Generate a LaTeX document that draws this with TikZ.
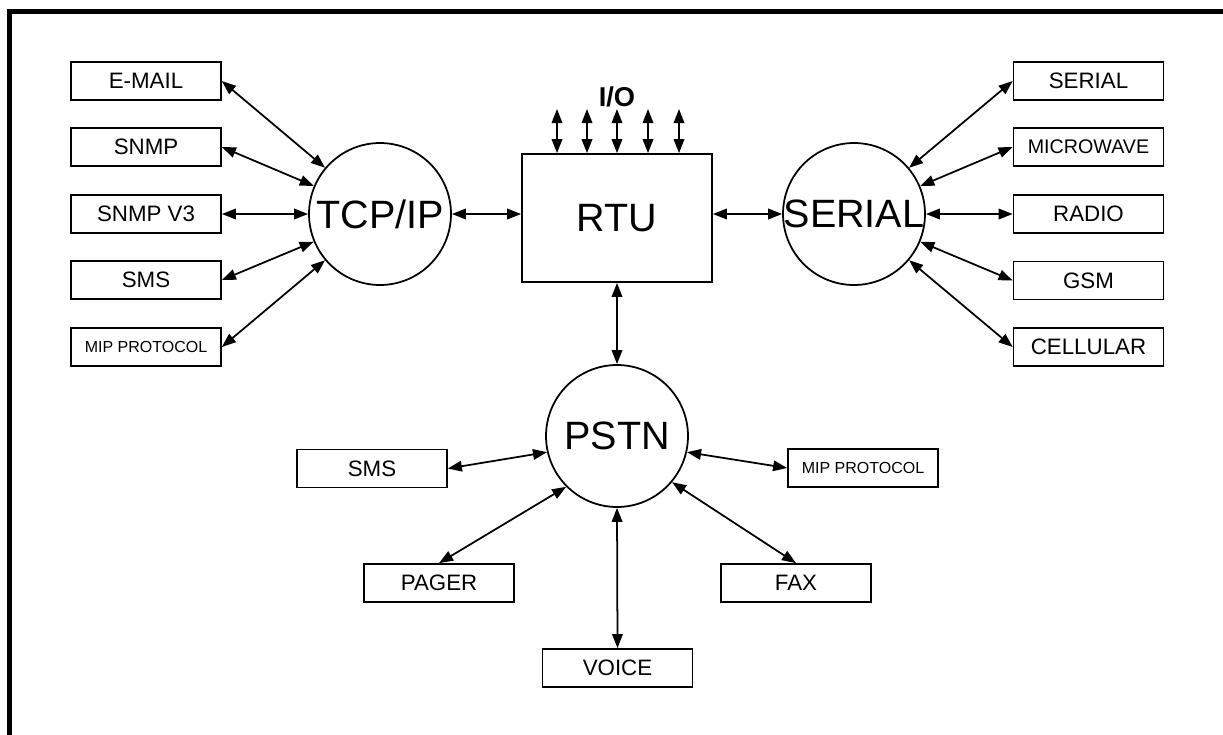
\documentclass[tikz,border=0pt]{standalone}
\usepackage{fontspec}
\setmainfont{Liberation Sans}
\usetikzlibrary{arrows.meta}

\begin{document}
\begin{tikzpicture}[x=0.02cm,y=-0.02cm,
	unit/.style={draw,line width=1pt,minimum width=3cm,minimum height=0.76cm,inner sep=0pt,font=\fontsize{12.7}{15}\selectfont},
	hub/.style={draw,circle,line width=1pt,minimum size=2.84cm,inner sep=0pt,font=\fontsize{22.5}{26}\selectfont},
	link/.style={{Triangle[length=8pt,width=6pt]}-{Triangle[length=8pt,width=6pt]},line width=1pt}]
	\path[use as bounding box] (0,0) rectangle (1223,734);
	\draw[line width=2.8pt] (9.5,745) -- (9.5,11.5) -- (1235,11.5);

	\node[draw,line width=1pt,minimum width=3.8cm,minimum height=2.56cm,font=\fontsize{22.5}{26}\selectfont] (rtu) at (617,218) {RTU};
	\node[font=\bfseries\fontsize{15.5}{18}\selectfont] (io) at (617,97) {I/O};
	\node[hub] (tcp) at (380,214) {\makebox[0pt]{TCP/IP}};
	\node[hub] (ser) at (854,214) {\makebox[0pt]{SERIAL}};
	\node[hub] (pstn) at (617,436) {\makebox[0pt]{PSTN}};

	\node[unit] (email) at (146,81) {E-MAIL};
	\node[unit] (snmp) at (146,147) {SNMP};
	\node[unit] (snmpv) at (146,214) {SNMP V3};
	\node[unit] (smsa) at (146,280) {SMS};
	\node[unit,font=\fontsize{9.1}{11}\selectfont] (mipa) at (146,347) {MIP PROTOCOL};

	\node[unit] (serial) at (1088.5,81) {SERIAL};
	\node[unit,font=\fontsize{11.2}{13}\selectfont] (microwave) at (1088.5,147) {MICROWAVE};
	\node[unit] (radio) at (1088.5,214) {RADIO};
	\node[unit] (gsm) at (1088.5,280.5) {GSM};
	\node[unit] (cellular) at (1088.5,347) {CELLULAR};

	\node[unit] (smsb) at (372,468.5) {SMS};
	\node[unit,font=\fontsize{9.1}{11}\selectfont] (mipb) at (863,468) {MIP PROTOCOL};
	\node[unit] (pager) at (439,583) {PAGER};
	\node[unit] (fax) at (796,583) {FAX};
	\node[unit] (voice) at (617.5,668) {VOICE};

	\foreach \n in {email,snmp,snmpv,smsa,mipa}
		\draw[link] (\n.east) -- (tcp);
	\foreach \n in {serial,microwave,radio,gsm,cellular}
		\draw[link] (\n.west) -- (ser);
	\foreach \x in {557,587,617,648,679} {
		\coordinate (io-\x) at (\x,109);
		\draw[link] (io-\x) -- (io-\x |- rtu.north);
	}

	\draw[link] (tcp.east) -- (tcp.east -| rtu.west);
	\draw[link] (ser.west) -- (ser.west -| rtu.east);
	\draw[link] (rtu.south) -- (pstn.north);
	\draw[link] (smsb.east) -- (pstn.193);
	\draw[link] (pstn.-13) -- (mipb.west);
	\draw[link] (pager.north) -- (pstn.225);
	\draw[link] (pstn.-40) -- (fax.north);
	\draw[link] (pstn.south) -- (voice.north);
\end{tikzpicture}
\end{document}
